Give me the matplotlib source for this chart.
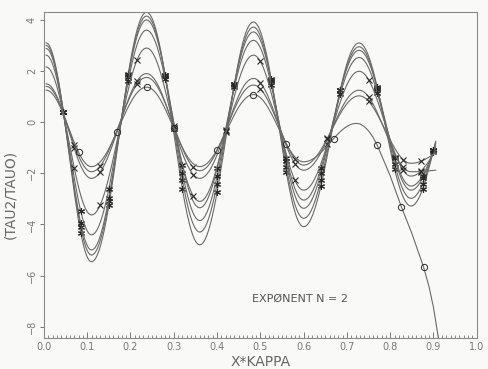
import numpy as np
import matplotlib
matplotlib.use("Agg")
import matplotlib.pyplot as plt
from matplotlib.ticker import MultipleLocator, FormatStrFormatter

# turning points of the curves (start, trough, peak, ... , end)
x_turn = [0.005, 0.11, 0.237, 0.36, 0.484, 0.60, 0.728, 0.848, 0.905]

curve0 = [3.10, -5.46, 4.30, -4.80, 3.92, -4.09, 3.10, -3.28, -0.75]
curve1 = [3.00, -5.20, 4.15, -4.30, 3.72, -3.76, 2.95, -2.98, -0.80]
curve2 = [2.88, -5.00, 4.00, -3.85, 3.53, -3.37, 2.81, -2.66, -0.85]
curve3 = [2.62, -4.41, 3.60, -3.35, 3.20, -3.05, 2.53, -2.50, -0.95]
curve4 = [2.16, -3.63, 2.90, -3.10, 2.62, -2.66, 1.99, -2.11, -1.10]
curve5 = [1.50, -2.20, 1.90, -2.20, 1.71, -1.88, 1.25, -1.94, -1.88]
curve6 = [1.40, -1.94, 1.75, -1.90, 1.45, -1.68, 1.03, -1.61, -1.20]

# the circle curve drops away after its last peak
x_turn_c = [0.005, 0.11, 0.237, 0.36, 0.484, 0.60, 0.722]
curve7 = [1.25, -1.74, 1.37, -1.74, 1.08, -1.55, -0.05]
tail_x = [0.73, 0.74, 0.75, 0.76, 0.77, 0.785, 0.80, 0.826, 0.85, 0.877, 0.89, 0.90, 0.91, 0.915]
tail_y = [-0.07, -0.17, -0.34, -0.58, -0.90, -1.50, -2.10, -3.32, -4.35, -5.66, -6.45, -7.25, -8.30, -8.90]

# where the plotter put its symbols
mark_star = [0.045, 0.085, 0.15, 0.195, 0.28, 0.32, 0.40, 0.44, 0.525, 0.56, 0.64, 0.685, 0.77, 0.81, 0.875, 0.90]
mark_x = [0.07, 0.13, 0.215, 0.30, 0.345, 0.42, 0.50, 0.58, 0.655, 0.75, 0.83, 0.87]
mark_o = [0.08, 0.168, 0.237, 0.30, 0.40, 0.484, 0.56, 0.669, 0.77, 0.826, 0.877]


def wave(xs, ys, end_rising=True, n=30):
    # smooth line through turning points (flat at each turning point)
    px, py = [], []
    for i in range(len(xs) - 1):
        last = i == len(xs) - 2
        t = np.linspace(0, 1, n + 1)
        if not last:
            t = t[:-1]
        if last and end_rising:
            w = 1 - np.cos(np.pi / 2 * t)
        else:
            w = (1 - np.cos(np.pi * t)) / 2
        px.extend(xs[i] + (xs[i + 1] - xs[i]) * t)
        py.extend(ys[i] + (ys[i + 1] - ys[i]) * w)
    return np.array(px), np.array(py)


plt.rcParams['font.family'] = ['DejaVu Sans']
fig = plt.figure(figsize=(4.88, 3.69), dpi=100, facecolor='#f9f9f7')
ax = fig.add_axes([0.090, 0.084, 0.887, 0.883])
ax.set_facecolor('#f9f9f7')

line_c = '#6a6a6a'
mark_c = '#2a2a2a'
star = (6, 2, 0)

for ys in [curve0, curve1, curve2, curve3]:
    lx, ly = wave(x_turn, ys)
    ax.plot(lx, ly, color=line_c, lw=0.8)
    ax.plot(mark_star, np.interp(mark_star, lx, ly), ls='none', marker=star,
            ms=5, mec=mark_c, mew=0.8)

for ys in [curve4, curve5, curve6]:
    lx, ly = wave(x_turn, ys)
    ax.plot(lx, ly, color=line_c, lw=0.8)
    ax.plot(mark_x, np.interp(mark_x, lx, ly), ls='none', marker='x',
            ms=4, mec=mark_c, mew=0.8)

hx, hy = wave(x_turn_c, curve7, end_rising=False)
cx = np.concatenate([hx, tail_x])
cy = np.concatenate([hy, tail_y])
ax.plot(cx, cy, color=line_c, lw=0.8)
ax.plot(mark_o, np.interp(mark_o, cx, cy), ls='none', marker='o', ms=4.5,
        mfc='none', mec=mark_c, mew=0.7)

ax.set_xlim(0, 1.0)
ax.set_ylim(-8.44, 4.3)

ax.xaxis.set_major_locator(MultipleLocator(0.1))
ax.xaxis.set_minor_locator(MultipleLocator(0.01))
ax.xaxis.set_major_formatter(FormatStrFormatter('%.1f'))
ax.set_yticks([-8, -6, -4, -2, 0, 2, 4])

tick_c = '#777777'
ax.tick_params(axis='x', which='major', direction='in', length=4, width=0.7,
               color=tick_c, labelsize=7, labelcolor=tick_c, pad=3)
ax.tick_params(axis='x', which='minor', direction='in', length=2.5, width=0.6,
               color=tick_c)
ax.tick_params(axis='y', direction='out', length=3, width=0.7, color=tick_c,
               labelsize=7, labelcolor=tick_c, labelrotation=90, pad=2)
for lab in ax.get_yticklabels():
    lab.set_va('center')

for sp in ax.spines.values():
    sp.set_color('#8a8a8a')
    sp.set_linewidth(0.8)

ax.set_xlabel('X*KAPPA', fontsize=10, color='#666666', labelpad=2)
ax.set_ylabel('(TAU2/TAUO)', fontsize=10, color='#666666')
ax.yaxis.set_label_coords(-0.062, 0.44)

ax.text(0.48, -6.9, 'EXPØNENT N = 2', fontsize=8, color='#555555',
        va='center', ha='left')

fig.savefig('out.png', dpi=100, facecolor=fig.get_facecolor())
